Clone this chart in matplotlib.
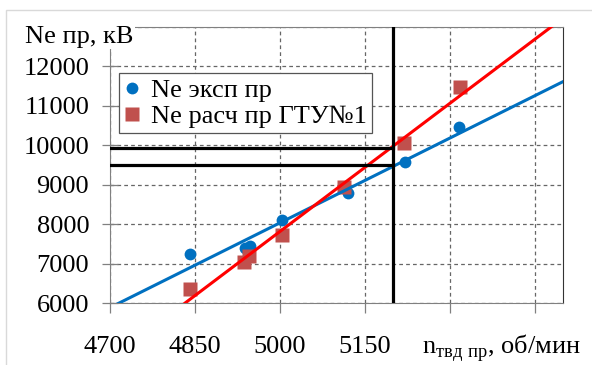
import matplotlib
matplotlib.use("Agg")
import matplotlib.pyplot as plt
from matplotlib.patches import Rectangle
import numpy as np

plt.rcParams['font.family'] = ['Liberation Serif', 'DejaVu Serif']
plt.rcParams['mathtext.fontset'] = 'custom'
plt.rcParams['mathtext.rm'] = 'Liberation Serif'

# experimental points
n_exp = [4842, 4939, 4948, 5003, 5121, 5221, 5316]
ne_exp = [7240, 7400, 7450, 8110, 8780, 9570, 10470]
# calculated points, GTU No1
n_calc = [4842, 4937, 4946, 5003, 5114, 5219, 5318]
ne_calc = [6350, 7050, 7190, 7720, 8940, 10050, 11490]

# reference lines
n_ref = 5200
ne_ref = [9930, 9500]

x_ticks = [4700, 4850, 5000, 5150, 5300, 5450]
x_labels = ['4700', '4850', '5000', '5150', '', '']
y_ticks = [6000, 7000, 8000, 9000, 10000, 11000, 12000, 13000]
y_labels = ['6000', '7000', '8000', '9000', '10000', '11000', '12000', '']

blue = '#0070C0'
red = '#FF0000'
sq = '#C0504D'

fig = plt.figure(figsize=(5.92, 3.65), dpi=100)
fig.patches.append(Rectangle((6 / 592, -0.1), 2, 0.9726 + 0.1, transform=fig.transFigure,
                             fill=False, edgecolor='#d9d9d9', lw=1))
ax = fig.add_axes([110 / 592, 62 / 365, 453 / 592, 276 / 365])

ax.plot(n_exp, ne_exp, 'o', color=blue, ms=8.5, zorder=3, label='Ne эксп пр', mec='none')
ax.plot(n_calc, ne_calc, 's', color=sq, ms=10, zorder=3, label='Ne расч пр ГТУ№1', mec='none')

# linear trend lines
xs = np.array([4600, 5600])
k1, b1 = np.polyfit(n_exp, ne_exp, 1)
k2, b2 = np.polyfit(n_calc, ne_calc, 1)
ax.plot(xs, k1 * xs + b1, color=blue, lw=2.2, zorder=4)
ax.plot(xs, k2 * xs + b2, color=red, lw=2.2, zorder=4)

ax.axvline(n_ref, color='black', lw=2.3, zorder=5)
for v in ne_ref:
    ax.plot([4700, n_ref], [v, v], color='black', lw=2.3, zorder=5)

ax.set_xlim(4700, 5500)
ax.set_ylim(6000, 13000)
ax.set_xticks(x_ticks)
ax.set_xticklabels(x_labels)
ax.set_yticks(y_ticks)
ax.set_yticklabels(y_labels)
ax.grid(True, color='#666666', ls=(0, (3, 2.5)), lw=0.9)
ax.tick_params(axis='x', direction='out', length=7, width=0.9, color='#808080', pad=17, labelsize=19)
ax.tick_params(axis='y', direction='inout', length=12, width=0.9, color='#808080', pad=9, labelsize=19)
for s in ['top', 'left', 'bottom']:
    ax.spines[s].set_color('#808080')
ax.spines['right'].set_color('#333333')

leg = ax.legend(loc='upper left', bbox_to_anchor=(0.02, 0.833), borderaxespad=0,
                fontsize=19, fancybox=False, framealpha=1, edgecolor='#555555',
                handlelength=0.6, handletextpad=0.4, labelspacing=0.1,
                borderpad=0.2)
leg.get_frame().set_linewidth(0.9)
leg.set_zorder(6)

fig.text(25 / 592, 1 - 43 / 365, 'Ne пр, кВ', fontsize=19, ha='left', va='baseline',
         bbox=dict(facecolor='white', edgecolor='none', pad=1), zorder=10)
fig.text(422 / 592, 1 - 353 / 365, r'n$_\mathregular{твд\ пр}$, об/мин', fontsize=19,
         ha='left', va='baseline')

fig.savefig('out.png', dpi=100)
